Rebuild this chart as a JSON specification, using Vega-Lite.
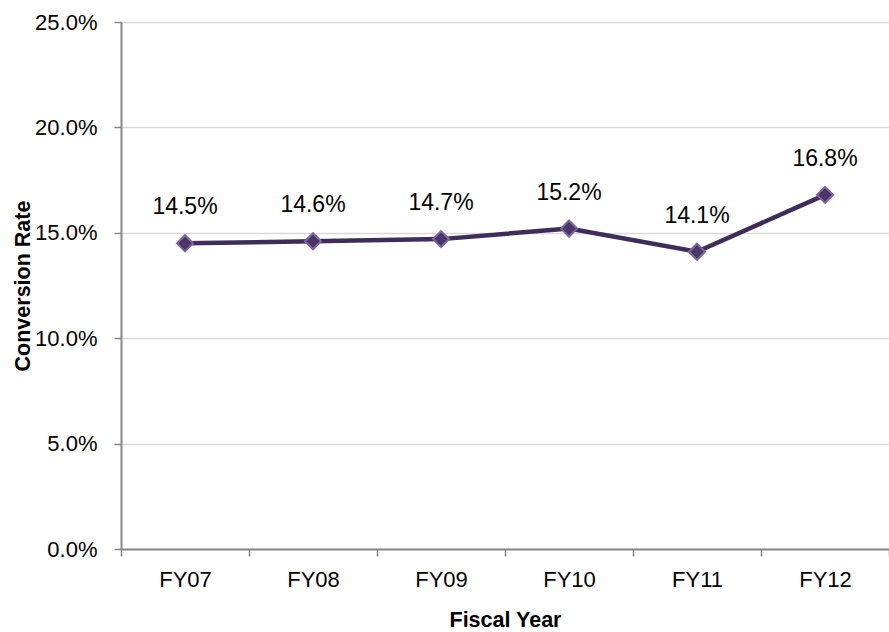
{
  "$schema": "https://vega.github.io/schema/vega-lite/v6.json",
  "width": 768,
  "height": 527,
  "autosize": {"type": "none"},
  "padding": {"left": 121, "top": 22, "right": 0, "bottom": 83},
  "background": "white",
  "config": {
    "view": {"stroke": null},
    "font": "Liberation Sans"
  },
  "data": {
    "values": [
      {"year": "FY07", "rate": 0.145},
      {"year": "FY08", "rate": 0.146},
      {"year": "FY09", "rate": 0.147},
      {"year": "FY10", "rate": 0.152},
      {"year": "FY11", "rate": 0.141},
      {"year": "FY12", "rate": 0.168}
    ]
  },
  "encoding": {
    "x": {
      "field": "year",
      "type": "nominal",
      "sort": null,
      "scale": {"type": "band", "paddingInner": 0, "paddingOuter": 0},
      "axis": {
        "title": "Fiscal Year",
        "titleFont": "Liberation Sans",
        "titleFontSize": 21.5,
        "titleFontWeight": "bold",
        "titleColor": "#000000",
        "titlePadding": 19,
        "labelAngle": 0,
        "labelFont": "Liberation Sans",
        "labelFontSize": 22,
        "labelColor": "#000000",
        "labelPadding": 13,
        "tickBand": "extent",
        "tickSize": 7,
        "tickColor": "#868686",
        "domainColor": "#868686",
        "domainWidth": 2,
        "tickWidth": 1.5,
        "grid": false
      }
    },
    "y": {
      "field": "rate",
      "type": "quantitative",
      "scale": {"domain": [0, 0.25], "nice": false},
      "axis": {
        "title": "Conversion Rate",
        "titleFont": "Liberation Sans",
        "titleFontSize": 21.5,
        "titleFontWeight": "bold",
        "titleColor": "#000000",
        "titlePadding": 0,
        "values": [0, 0.05, 0.1, 0.15, 0.2, 0.25],
        "format": ".1%",
        "labelFont": "Liberation Sans",
        "labelFontSize": 22,
        "labelColor": "#000000",
        "labelPadding": 17,
        "tickSize": 7,
        "tickColor": "#868686",
        "domainColor": "#868686",
        "domainWidth": 2,
        "tickWidth": 1.5,
        "grid": true,
        "gridColor": "#d9d9d9",
        "gridWidth": 1.5
      }
    }
  },
  "layer": [
    {
      "mark": {"type": "line", "color": "#3f2c58", "strokeWidth": 4.5}
    },
    {
      "mark": {"type": "point", "shape": "diamond", "filled": true, "fill": "#4a3768", "stroke": "#8064a2", "strokeWidth": 2, "size": 260, "opacity": 1}
    },
    {
      "mark": {"type": "text", "fontSize": 23, "dy": -36, "color": "#000000", "font": "Liberation Sans"},
      "encoding": {"text": {"field": "rate", "type": "quantitative", "format": ".1%"}}
    }
  ]
}
